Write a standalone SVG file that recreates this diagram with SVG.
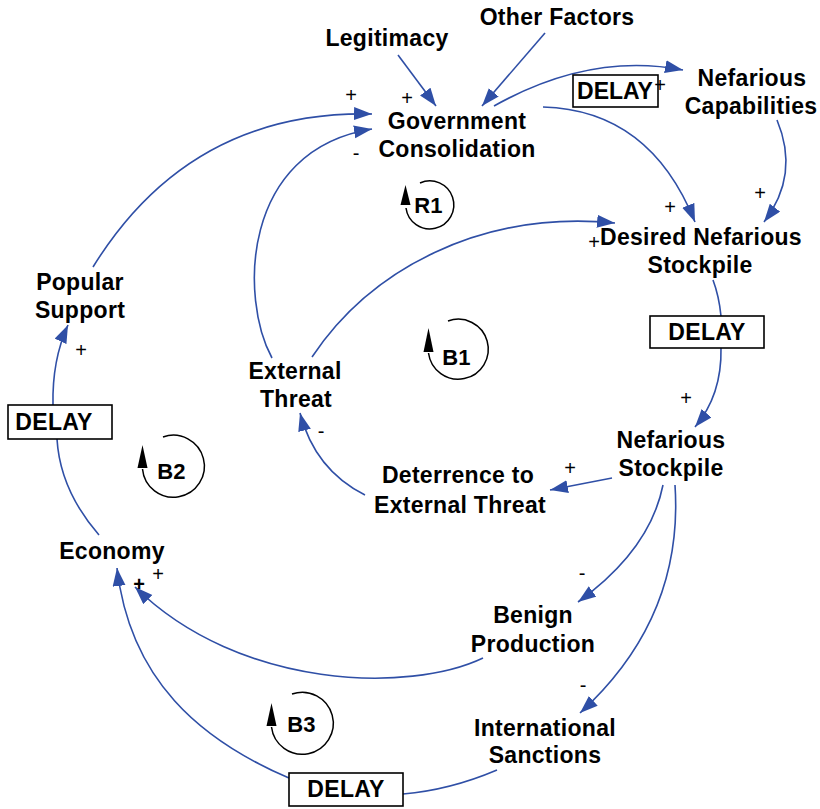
<svg xmlns="http://www.w3.org/2000/svg" width="820" height="809" viewBox="0 0 820 809">
<defs>
<marker id="ah" markerUnits="userSpaceOnUse" markerWidth="20" markerHeight="14" refX="18" refY="6.5" orient="auto">
<path d="M0,0 L18,6.5 L0,13 z" fill="#2f4fa6"/>
</marker>
</defs>
<style>
.n{font-family:"Liberation Sans",Arial,sans-serif;font-weight:bold;font-size:23px;letter-spacing:0.3px;fill:#000;text-anchor:middle}
.s{font-family:"Liberation Sans",Arial,sans-serif;font-size:20px;fill:#000;text-anchor:middle}
.c{fill:none;stroke:#2f4fa6;stroke-width:1.6}
.a{marker-end:url(#ah)}
.box{fill:#fff;stroke:#000;stroke-width:1.6}
.loop{fill:none;stroke:#000;stroke-width:1.5}
</style>
<rect width="820" height="809" fill="#fff"/>

<g id="connectors">
<path class="c a" d="M398,55 L436,106"/>
<path class="c a" d="M545,33 L482,106"/>
<path class="c a" d="M494,106 Q590,52 683,70"/>
<path class="c a" d="M543,107 Q650,110 695,222"/>
<path class="c a" d="M777,120 Q800,175 764,222"/>
<path class="c a" d="M312,357 C370,270 480,210 615,223"/>
<path class="c a" d="M93,267 Q190,110 372,114"/>
<path class="c a" d="M272,358 C240,300 240,150 372,129"/>
<path class="c" d="M713,280 Q719,296 721,316"/>
<path class="c a" d="M721,348 Q722,395 695,427"/>
<path class="c a" d="M612,478 L550,490"/>
<path class="c a" d="M365,495 Q315,470 300,413"/>
<path class="c a" d="M663,485 Q650,550 578,602"/>
<path class="c a" d="M675,485 C680,560 660,640 580,713"/>
<path class="c a" d="M483,658 C410,693 240,690 135,587"/>
<path class="c" d="M497,770 Q450,790 403,794"/>
<path class="c a" d="M289,778 C200,740 130,680 117,568"/>
<path class="c" d="M99,535 Q60,490 57,439"/>
<path class="c a" d="M53,405 Q52,360 68,325"/>
</g>

<g id="legitimacy"><text class="n" x="387" y="46">Legitimacy</text></g>
<g id="other-factors"><text class="n" x="557" y="25">Other Factors</text></g>
<g id="government-consolidation"><text class="n" x="457" y="129">Government</text><text class="n" x="457" y="157">Consolidation</text></g>
<g id="nefarious-capabilities"><text class="n" x="752" y="86">Nefarious</text><text class="n" x="751" y="114">Capabilities</text></g>
<g id="desired-nefarious-stockpile"><text class="n" x="701" y="245">Desired Nefarious</text><text class="n" x="700" y="273">Stockpile</text></g>
<g id="popular-support"><text class="n" x="80" y="290">Popular</text><text class="n" x="80" y="318">Support</text></g>
<g id="external-threat"><text class="n" x="295" y="379">External</text><text class="n" x="296" y="407">Threat</text></g>
<g id="deterrence"><text class="n" x="458" y="483">Deterrence to</text><text class="n" x="460" y="513">External Threat</text></g>
<g id="nefarious-stockpile"><text class="n" x="671" y="448">Nefarious</text><text class="n" x="671" y="476">Stockpile</text></g>
<g id="economy"><text class="n" x="112" y="559">Economy</text></g>
<g id="benign-production"><text class="n" x="533" y="623">Benign</text><text class="n" x="533" y="652">Production</text></g>
<g id="international-sanctions"><text class="n" x="545" y="736">International</text><text class="n" x="545" y="763">Sanctions</text></g>

<g id="delay-top"><rect class="box" x="573" y="75" width="85" height="32"/><text class="n" x="615" y="99" style="letter-spacing:0">DELAY</text></g>
<g id="delay-mid"><rect class="box" x="650" y="316" width="114" height="32"/><text class="n" x="707" y="340">DELAY</text></g>
<g id="delay-left"><rect class="box" x="8" y="405" width="104" height="34"/><text class="n" x="54" y="430">DELAY</text></g>
<g id="delay-bottom"><rect class="box" x="289" y="773" width="114" height="33"/><text class="n" x="346" y="797">DELAY</text></g>

<g id="polarities">
<text class="s" x="351" y="102">+</text>
<text class="s" x="356" y="160">-</text>
<text class="s" x="407" y="105">+</text>
<text class="s" x="660" y="92">+</text>
<text class="s" x="670" y="214">+</text>
<text class="s" x="760" y="200">+</text>
<text class="s" x="594" y="249">+</text>
<text class="s" x="81" y="357">+</text>
<text class="s" x="321" y="438">-</text>
<text class="s" x="686" y="405">+</text>
<text class="s" x="570" y="475">+</text>
<text class="s" x="158" y="581">+</text>
<text class="s" x="139" y="591" style="font-weight:bold">+</text>
<text class="s" x="582" y="580">-</text>
<text class="s" x="583" y="692">-</text>
</g>

<g id="loop-R1">
<path class="loop" d="M420,183 A24,24 0 1 1 406,208"/>
<polygon points="400.5,205 405.5,185 410.5,205" fill="#000"/>
<text class="n" x="428.5" y="213" style="font-size:22px">R1</text>
</g>
<g id="loop-B1">
<path class="loop" d="M448,321 A30,30 0 1 1 428.5,353"/>
<polygon points="423.5,352 428.5,328 433.5,352" fill="#000"/>
<text class="n" x="456.5" y="365" style="font-size:22px">B1</text>
</g>
<g id="loop-B2">
<path class="loop" d="M163,437 A31,31 0 1 1 142.5,469"/>
<polygon points="137.5,468 142.5,445 147.5,468" fill="#000"/>
<text class="n" x="171.5" y="479" style="font-size:22px">B2</text>
</g>
<g id="loop-B3">
<path class="loop" d="M292,694 A31,31 0 1 1 271.5,727"/>
<polygon points="266.5,726 271.5,703 276.5,726" fill="#000"/>
<text class="n" x="301.5" y="732" style="font-size:22px">B3</text>
</g>
</svg>
